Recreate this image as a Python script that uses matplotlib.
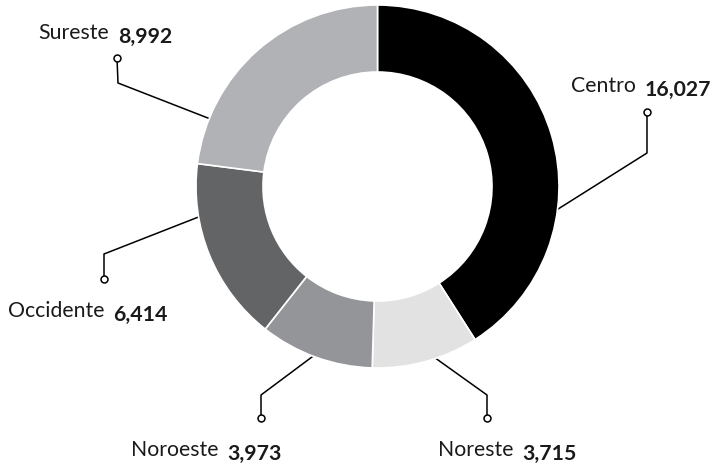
import matplotlib.pyplot as plt
import numpy as np

# data
regiones = ['Centro', 'Noreste', 'Noroeste', 'Occidente', 'Sureste']
valores = [16027, 3715, 3973, 6414, 8992]
etiquetas = ['16,027', '3,715', '3,973', '6,414', '8,992']
colores = ['#000000', '#e2e2e3', '#939598', '#636466', '#b1b2b5']

W, H = 715, 466
cx, cy, R = 377.5, H - 186.5, 181.5

# layout for the leader lines (angle on ring, elbow, dot) and text (left x, baseline y)
ang_ancla = [-7.5, -71.5, -110.6, 189.6, 158.0]
codo = [(647, 153), (487, 395), (261, 395), (104, 254), (118, 83)]
punto = [(647, 112), (487, 418), (261, 418), (104, 279), (117, 58)]
texto = [(571, 92), (438, 456), (131, 456), (8, 317), (38, 39)]

plt.rcParams['font.family'] = ['Lato', 'DejaVu Sans']

fig = plt.figure(figsize=(W / 100, H / 100), dpi=100)
ax = fig.add_axes([0, 0, 1, 1])

ax.pie(valores, colors=colores, startangle=90, counterclock=False,
       radius=R, center=(cx, cy),
       wedgeprops=dict(width=R - 114.5, edgecolor='white', linewidth=1.2))

for i in range(len(regiones)):
    a = np.radians(ang_ancla[i])
    x0, y0 = cx + (R - 1) * np.cos(a), cy + (R - 1) * np.sin(a)
    ex, ey = codo[i]
    px, py = punto[i]
    ax.plot([x0, ex, px], [y0, H - ey, H - py], color='black', lw=1.1, zorder=0.5)
    ax.plot(px, H - py, 'o', ms=5, mfc='white', mec='black', mew=1.1, zorder=3)
    tx, ty = texto[i]
    t = ax.text(tx, H - ty, regiones[i], fontsize=15.3, fontweight='normal',
                ha='left', va='baseline', color='#1a1a1a')
    ax.annotate(etiquetas[i], xy=(1, 0), xycoords=t, xytext=(6.5, 0),
                textcoords='offset points', fontsize=15.3, fontweight='bold',
                ha='left', va='baseline', color='#1a1a1a')

ax.set_xlim(0, W)
ax.set_ylim(0, H)
ax.set_aspect('equal')
ax.axis('off')

plt.savefig('out.png', dpi=100)
